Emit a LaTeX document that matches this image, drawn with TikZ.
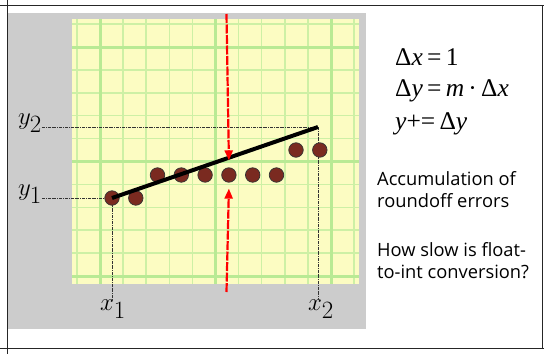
\documentclass[tikz,border=0pt]{standalone}
\usepackage{fontspec}
\newfontfamily\eqfont{Liberation Serif}
\newfontfamily\notefont{Open Sans}
\usetikzlibrary{arrows.meta, positioning}

\definecolor{paper}{RGB}{204,204,204}
\definecolor{cellfill}{RGB}{252,252,194}
\definecolor{gridthin}{RGB}{205,240,165}
\definecolor{gridthick}{RGB}{185,234,148}
\definecolor{pixel}{RGB}{122,42,32}

\begin{document}
\begin{tikzpicture}[x=1pt, y=-1pt, >={Triangle[length=10pt,width=8pt]}]
    % Styles
    \tikzstyle{dot} = [circle, draw=black!80, fill=pixel, line width=0.7pt, minimum size=14.5pt, inner sep=0pt]
    \tikzstyle{guide} = [draw=black!80, line width=0.7pt, densely dash dot]
    \tikzstyle{probe} = [draw=red, line width=2.2pt, dash pattern=on 9pt off 1.5pt, ->]
    \tikzstyle{coord} = [inner sep=0pt, font=\fontsize{29}{29}\selectfont]
    \tikzstyle{eq} = [anchor=base west, inner sep=0pt, font=\eqfont\fontsize{25.5}{26}\selectfont]
    \tikzstyle{note} = [anchor=base west, inner sep=0pt, align=left, font=\notefont\fontsize{18.3}{22}\selectfont]

    \useasboundingbox (0,0) rectangle (544,354);

    % Frame
    \draw [line width=0.8pt, black!85] (0,5) -- (544,5) (7.5,0) -- (7.5,354) (0,348.5) -- (544,348.5) (542,5) -- (542,348.5);
    \fill [paper] (8,13) rectangle (366,329);
    \fill [cellfill] (72,19) rectangle (359,284);

    % Grid
    \foreach \i in {-1,...,11}
        \draw [gridthin, line width=1.5pt] ({100+23.1*\i},19) -- ({100+23.1*\i},284);
    \foreach \j in {-1,...,10}
        \draw [gridthin, line width=1.5pt] (72,{47+22.9*\j}) -- (359,{47+22.9*\j});
    \foreach \x in {100,215.5,331}
        \draw [gridthick, line width=3pt] (\x,19) -- (\x,284);
    \foreach \y in {47,161.5,276}
        \draw [gridthick, line width=3pt] (72,\y) -- (359,\y);

    % Nodes
    \coordinate (p1) at (112,198);
    \coordinate (p2) at (318,127);
    \node [coord, anchor=east] (y2lbl) at (42,123) {$y_{\textstyle 2}$};
    \node [coord, anchor=east] (y1lbl) at (42,194) {$y_{\textstyle 1}$};
    \node [coord] (x1lbl) at (113,309) {$x_{\textstyle 1}$};
    \node [coord] (x2lbl) at (321,309) {$x_{\textstyle 2}$};

    % Guides
    \draw [guide] (y2lbl.east |- p2) -- (p2);
    \draw [guide] (y1lbl.east |- p1) -- (p1);
    \draw [guide] (p1) -- (p1 |- x1lbl.north);
    \draw [guide] (p2) -- (p2 |- x2lbl.north);

    \node [dot] (d1) at (p1) {};
    \node [dot, right=8.6pt of d1] (d2) {};
    \node [dot] (d3) at (157.5,175) {};
    \node [dot, right=8.6pt of d3] (d4) {};
    \node [dot, right=8.6pt of d4] (d5) {};
    \node [dot, right=8.6pt of d5] (d6) {};
    \node [dot, right=8.6pt of d6] (d7) {};
    \node [dot, right=8.6pt of d7] (d8) {};
    \node [dot] (d9) at (296,150) {};
    \node [dot, right=8.6pt of d9] (d10) {};

    \coordinate (probeTop) at (226.5,14);
    \coordinate (probeBot) at (226.5,292);

    \node [eq] (dx) at (395,65) {Δ\textit{x}\,=\,1};
    \node [eq] (dy) at (395,96) {Δ\textit{y}\,=\,\textit{m}\,·\,Δ\textit{x}};
    \node [eq] (acc) at (395,129) {\textit{y}+=\,Δ\textit{y}};
    \node [note] (drift) at (377,207) {Accumulation of\\roundoff errors};
    \node [note] (slow) at (377,278) {How slow is float-\\to-int conversion?};

    % Edges
    \draw [line width=4pt] (d1.center) -- (p2);
    \draw [probe] (probeTop) -- ([yshift=7pt]d6.north);
    \draw [probe] (probeBot) -- ([yshift=-6pt]d6.south);
\end{tikzpicture}
\end{document}
